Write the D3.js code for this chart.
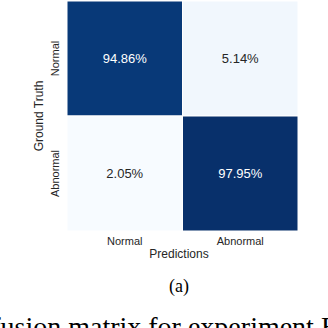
<!DOCTYPE html>
<html>
<head>
<meta charset="utf-8">
<script src="https://cdn.jsdelivr.net/npm/d3@7"></script>
<style>
  body { margin: 0; background: #fff; }
  svg { display: block; }
</style>
</head>
<body>
<svg id="chart" width="328" height="328"></svg>
<script>
// data
var truthLabels = ["Normal", "Abnormal"]
var predLabels = ["Normal", "Abnormal"]
var normalRow = [94.86, 5.14]
var abnormalRow = [2.05, 97.95]

function drawMatrix() {
    var rows = [normalRow, abnormalRow]
    var cells = []
    rows.forEach(function(r, i) {
        r.forEach(function(v, j) {
            cells.push({ truth: truthLabels[i], pred: predLabels[j], value: v })
        })
    })

    var svg = d3.select("#chart")
    var plotLeft = 67, plotRight = 298, plotTop = 1, plotBottom = 231
    var sans = "'Liberation Sans', Arial, sans-serif"

    var x = d3.scaleBand().domain(predLabels).range([plotLeft, plotRight])
    var y = d3.scaleBand().domain(truthLabels).range([plotTop, plotBottom])

    var allVals = normalRow.concat(abnormalRow)
    var color = d3.scaleSequential(d3.interpolateBlues)
        .domain([d3.min(allVals), d3.max(allVals)])

    // cells
    svg.append("g").selectAll("rect")
        .data(cells)
        .enter().append("rect")
        .attr("x", function(d) { return x(d.pred) })
        .attr("y", function(d) { return y(d.truth) })
        .attr("width", x.bandwidth())
        .attr("height", y.bandwidth())
        .attr("fill", function(d) { return color(d.value) })
        .attr("stroke", "#fff")
        .attr("stroke-width", 1)

    // annotations
    svg.append("g").selectAll("text")
        .data(cells)
        .enter().append("text")
        .attr("x", function(d) { return x(d.pred) + x.bandwidth() / 2 })
        .attr("y", function(d) { return y(d.truth) + y.bandwidth() / 2 + 4.5 })
        .attr("text-anchor", "middle")
        .style("font-family", sans)
        .style("font-size", "13px")
        .attr("fill", function(d) { return d.value > 50 ? "#ffffff" : "#262626" })
        .text(function(d) { return d.value.toFixed(2) + "%" })

    // x axis
    var xAxis = svg.append("g")
        .attr("transform", "translate(0," + plotBottom + ")")
        .call(d3.axisBottom(x).tickSize(0).tickPadding(6))
    xAxis.select(".domain").remove()
    xAxis.selectAll("text")
        .style("font-family", sans)
        .style("font-size", "11px")
        .attr("fill", "#262626")

    // y axis
    var yAxis = svg.append("g")
        .attr("transform", "translate(" + plotLeft + ",0)")
        .call(d3.axisLeft(y).tickSize(0).tickPadding(0))
    yAxis.select(".domain").remove()
    yAxis.selectAll("text")
        .attr("x", 0).attr("dy", 0)
        .attr("transform", "translate(-8,0) rotate(-90)")
        .attr("text-anchor", "middle")
        .style("font-family", sans)
        .style("font-size", "11px")
        .attr("fill", "#262626")

    // axis labels
    svg.append("text")
        .attr("x", 179)
        .attr("y", 258)
        .attr("text-anchor", "middle")
        .style("font-family", sans)
        .style("font-size", "12px")
        .attr("fill", "#262626")
        .text("Predictions")

    svg.append("text")
        .attr("transform", "translate(43," + ((plotTop + plotBottom) / 2) + ") rotate(-90)")
        .attr("text-anchor", "middle")
        .style("font-family", sans)
        .style("font-size", "12px")
        .attr("fill", "#262626")
        .text("Ground Truth")

    // caption
    svg.append("text")
        .attr("x", 179)
        .attr("y", 292)
        .attr("text-anchor", "middle")
        .style("font-family", "'Liberation Serif', 'Times New Roman', serif")
        .style("font-size", "18px")
        .attr("fill", "#000")
        .text("(a)")

    svg.append("text")
        .attr("x", 338)
        .attr("y", 336)
        .attr("text-anchor", "end")
        .style("font-family", "'Liberation Serif', 'Times New Roman', serif")
        .style("font-size", "28px")
        .attr("fill", "#000")
        .text("Confusion matrix for experiment E")
}

drawMatrix()
</script>
</body>
</html>
